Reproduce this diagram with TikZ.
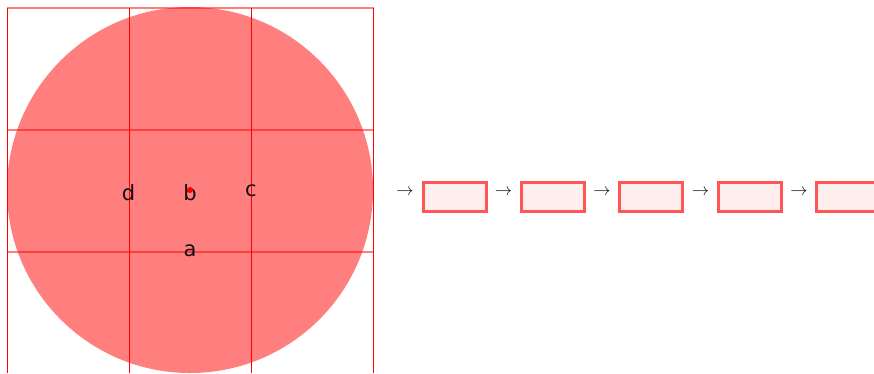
\documentclass[tikz,border=0pt]{standalone}
\usepackage{fontspec}
\setmainfont{DejaVu Sans}
\definecolor{boxline}{RGB}{255,85,85}
\definecolor{boxfill}{RGB}{255,238,238}
\definecolor{ink}{RGB}{17,17,17}
\tikzset{
  vline/.style={draw=red, line width=1pt},
  hline/.style={draw=red, draw opacity=0.5, line width=1.6pt},
  lbl/.style={font=\fontsize{21}{21}\selectfont, text=ink, inner sep=0pt},
  arr/.style={font=\fontsize{16}{16}\selectfont, text=ink, inner sep=0pt},
  chainbox/.style={draw=boxline, fill=boxfill, line width=3pt, minimum width=63pt, minimum height=29pt, inner sep=0pt},
}
\begin{document}
\begin{tikzpicture}[x=1pt,y=-1pt]
\useasboundingbox (0,0) rectangle (874,373);
% circle
\fill[red, fill opacity=0.5] (190,190) circle (183);
% horizontal lines
\foreach \y in {8,130,252} \draw[hline] (7,\y) -- (373.5,\y);
% vertical lines
\foreach \x in {7.5,129.5,251.5,373.5} \draw[vline] (\x,7.5) -- (\x,373);
% labels
\node[lbl] (d) at (128.5,192.5) {d};
\node[lbl] (b) at (190,192.5) {b};
\node[lbl] (c) at (251,190.5) {c};
\node[lbl] (a) at (190,251) {a};
\fill[red] (190,190) circle (3);
% chain
\node[arr] (r0) at (405,192.5) {$\rightarrow$};
\node[chainbox] (b1) at (454.5,196.5) {};
\node[arr] (r1) at (503.5,192.5) {$\rightarrow$};
\node[chainbox] (b2) at (552.5,196.5) {};
\node[arr] (r2) at (602,192.5) {$\rightarrow$};
\node[chainbox] (b3) at (650.5,196.5) {};
\node[arr] (r3) at (700.5,192.5) {$\rightarrow$};
\node[chainbox] (b4) at (749.5,196.5) {};
\node[arr] (r4) at (799,192.5) {$\rightarrow$};
\node[chainbox] (b5) at (847.5,196.5) {};
\end{tikzpicture}
\end{document}
